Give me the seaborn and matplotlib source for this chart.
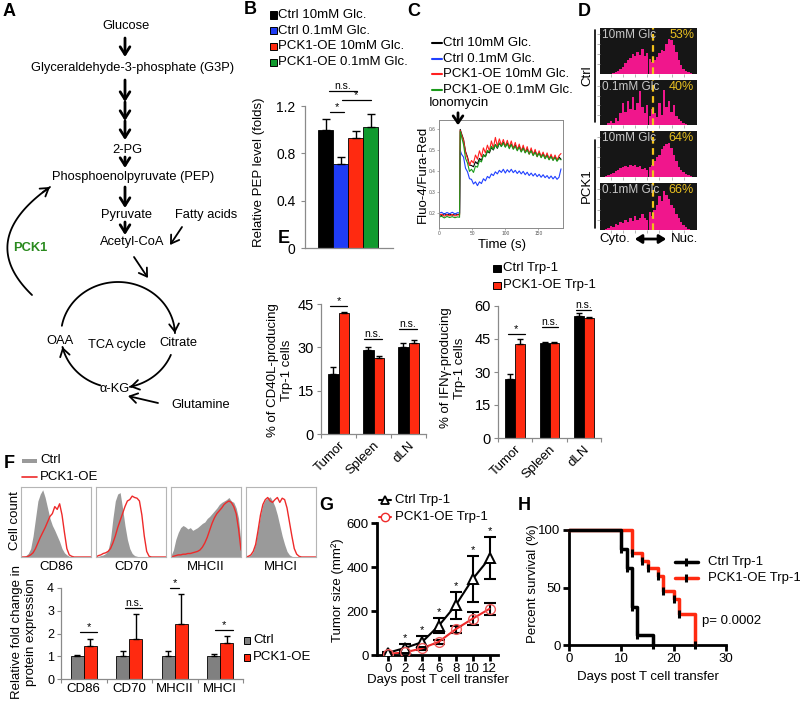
"""Multi-panel figure: PCK1 / PEP metabolism in T cells."""

import matplotlib.pyplot as plt
import numpy as np
import seaborn as sns
from matplotlib.lines import Line2D
from matplotlib.patches import FancyArrowPatch, Rectangle

# ---------------- data ----------------
# B: relative PEP level
pep_groups = ["Ctrl 10mM Glc.", "Ctrl 0.1mM Glc.", "PCK1-OE 10mM Glc.", "PCK1-OE 0.1mM Glc."]
pep_mean = [1.00, 0.71, 0.93, 1.02]
pep_err = [0.09, 0.06, 0.06, 0.11]
pep_colors = ["#000000", "#1f3cf5", "#ff2a10", "#119a2e"]

# C: calcium flux traces (Fluo-4/Fura-Red)
c_time = [0, 4, 8, 12, 16, 20, 24, 28, 31, 32,
          34, 37, 40, 43, 46, 49, 52, 55, 58, 61,
          64, 67, 70, 73, 76, 79, 82, 85, 88, 91,
          94, 97, 100, 103, 106, 109, 112, 115, 118, 121,
          124, 127, 130, 133, 136, 139, 142, 145, 148, 151,
          154, 157, 160, 163, 166, 169, 172, 175, 178, 181,
          184]
c_ctrl_10 = [0.195, 0.190, 0.199, 0.192, 0.197, 0.191, 0.198, 0.194, 0.196, 0.600,
             0.580, 0.552, 0.495, 0.468, 0.430, 0.428, 0.422, 0.446, 0.436, 0.462,
             0.452, 0.480, 0.470, 0.496, 0.488, 0.514, 0.502, 0.528, 0.510, 0.535,
             0.520, 0.540, 0.518, 0.536, 0.515, 0.530, 0.512, 0.526, 0.505, 0.520,
             0.498, 0.515, 0.492, 0.508, 0.486, 0.502, 0.480, 0.496, 0.476, 0.490,
             0.470, 0.486, 0.465, 0.480, 0.460, 0.475, 0.455, 0.472, 0.452, 0.468,
             0.458]
c_ctrl_01 = [0.200, 0.205, 0.196, 0.204, 0.198, 0.205, 0.197, 0.203, 0.202, 0.500,
             0.482, 0.468, 0.415, 0.398, 0.365, 0.362, 0.340, 0.350, 0.332, 0.350,
             0.342, 0.365, 0.355, 0.376, 0.368, 0.388, 0.380, 0.398, 0.388, 0.405,
             0.395, 0.410, 0.392, 0.408, 0.396, 0.410, 0.394, 0.405, 0.390, 0.402,
             0.388, 0.400, 0.384, 0.396, 0.380, 0.392, 0.378, 0.390, 0.375, 0.386,
             0.372, 0.384, 0.370, 0.380, 0.366, 0.378, 0.364, 0.376, 0.362, 0.372,
             0.412]
c_oe_10 = [0.190, 0.196, 0.186, 0.194, 0.188, 0.195, 0.187, 0.193, 0.191, 0.595,
           0.575, 0.548, 0.490, 0.462, 0.428, 0.452, 0.440, 0.478, 0.458, 0.498,
           0.470, 0.512, 0.488, 0.525, 0.498, 0.545, 0.512, 0.562, 0.520, 0.555,
           0.525, 0.552, 0.520, 0.548, 0.515, 0.545, 0.508, 0.538, 0.502, 0.530,
           0.495, 0.525, 0.490, 0.518, 0.482, 0.512, 0.478, 0.505, 0.470, 0.498,
           0.468, 0.492, 0.462, 0.488, 0.458, 0.482, 0.455, 0.478, 0.452, 0.475,
           0.485]
c_oe_01 = [0.182, 0.186, 0.178, 0.185, 0.180, 0.184, 0.179, 0.183, 0.181, 0.590,
           0.565, 0.528, 0.462, 0.440, 0.400, 0.410, 0.395, 0.425, 0.420, 0.452,
           0.445, 0.478, 0.470, 0.500, 0.492, 0.520, 0.505, 0.528, 0.512, 0.535,
           0.518, 0.536, 0.515, 0.532, 0.508, 0.528, 0.505, 0.520, 0.498, 0.515,
           0.492, 0.510, 0.488, 0.502, 0.482, 0.498, 0.475, 0.490, 0.470, 0.486,
           0.465, 0.480, 0.460, 0.475, 0.455, 0.470, 0.452, 0.466, 0.448, 0.462,
           0.455]
c_labels = ["Ctrl 10mM Glc.", "Ctrl 0.1mM Glc.", "PCK1-OE 10mM Glc.", "PCK1-OE 0.1mM Glc."]
c_colors = ["#000000", "#2040ff", "#ff2020", "#1a9a1a"]

# D: NFAT localisation histograms (Cyto. -> Nuc.)
d_titles = ["10mM Glc", "0.1mM Glc", "10mM Glc", "0.1mM Glc"]
d_pcts = ["53%", "40%", "64%", "66%"]
d_ctrl_10 = [0, 0, 0, 0, 0.01, 0.02, 0.05, 0.08, 0.12, 0.18,
             0.28, 0.35, 0.40, 0.50, 0.44, 0.56, 0.47, 0.62, 0.45, 0.52,
             0.38, 0.30, 0.34, 0.42, 0.52, 0.60, 0.58, 0.76, 0.88, 0.84,
             0.72, 0.55, 0.36, 0.22, 0.13, 0.08, 0.04, 0.02, 0.01, 0]
d_ctrl_01 = [0, 0, 0, 0.04, 0.09, 0.06, 0.18, 0.10, 0.30, 0.55,
             0.32, 0.62, 0.42, 0.72, 0.38, 0.55, 0.88, 0.45, 0.30, 0.52,
             0.24, 0.42, 0.30, 0.20, 0.56, 0.26, 0.90, 0.46, 0.62, 0.34,
             0.50, 0.24, 0.15, 0.10, 0.06, 0.03, 0.01, 0, 0, 0]
d_pck_10 = [0, 0, 0.02, 0.05, 0.08, 0.10, 0.14, 0.18, 0.22, 0.25,
            0.28, 0.25, 0.30, 0.27, 0.31, 0.25, 0.28, 0.21, 0.23, 0.18,
            0.24, 0.30, 0.40, 0.50, 0.56, 0.70, 0.78, 0.83, 0.86, 0.72,
            0.56, 0.40, 0.26, 0.18, 0.12, 0.08, 0.04, 0.02, 0, 0]
d_pck_01 = [0, 0, 0.02, 0.05, 0.10, 0.08, 0.15, 0.12, 0.20, 0.17,
            0.25, 0.20, 0.30, 0.22, 0.35, 0.25, 0.30, 0.40, 0.30, 0.25,
            0.45, 0.35, 0.50, 0.62, 0.82, 0.70, 0.96, 0.86, 0.75, 0.60,
            0.55, 0.40, 0.30, 0.20, 0.12, 0.08, 0.03, 0.01, 0, 0]
d_split_bin = 21.2

# E: cytokine-producing Trp-1 cells
e_tissues = ["Tumor", "Spleen", "dLN"]
e_cd40l_ctrl = [20.8, 29.1, 30.0]
e_cd40l_ctrl_err = [2.5, 1.1, 1.5]
e_cd40l_oe = [42.0, 26.2, 31.6]
e_cd40l_oe_err = [0.3, 0.9, 0.9]
e_ifng_ctrl = [27.0, 43.0, 55.5]
e_ifng_ctrl_err = [2.0, 0.5, 1.5]
e_ifng_oe = [42.5, 43.2, 54.5]
e_ifng_oe_err = [2.5, 0.3, 0.7]

# F: DC activation markers
f_markers = ["CD86", "CD70", "MHCII", "MHCI"]
f_hist_ctrl = [
    [0, 0.01, 0.02, 0.05, 0.12, 0.30, 0.55, 0.80, 0.90, 0.96,
     0.85, 0.70, 0.55, 0.45, 0.38, 0.30, 0.22, 0.12, 0.06, 0.03,
     0.01, 0, 0, 0, 0, 0, 0, 0, 0, 0],
    [0, 0.01, 0.02, 0.03, 0.05, 0.10, 0.25, 0.55, 0.80, 0.90,
     0.92, 0.70, 0.45, 0.25, 0.12, 0.05, 0.02, 0.01, 0, 0,
     0, 0, 0, 0, 0, 0, 0, 0, 0, 0],
    [0.02, 0.10, 0.25, 0.35, 0.42, 0.45, 0.43, 0.40, 0.42, 0.38,
     0.40, 0.42, 0.45, 0.48, 0.50, 0.55, 0.58, 0.62, 0.66, 0.70,
     0.75, 0.78, 0.80, 0.82, 0.85, 0.80, 0.78, 0.70, 0.55, 0.20],
    [0, 0.01, 0.03, 0.08, 0.20, 0.40, 0.60, 0.75, 0.82, 0.84,
     0.86, 0.80, 0.72, 0.60, 0.45, 0.30, 0.18, 0.08, 0.03, 0.01,
     0, 0, 0, 0, 0, 0, 0, 0, 0, 0],
]
f_hist_oe = [
    [0, 0, 0, 0.01, 0.03, 0.06, 0.12, 0.20, 0.28, 0.35,
     0.42, 0.50, 0.58, 0.62, 0.72, 0.68, 0.76, 0.60, 0.35, 0.12,
     0.03, 0.01, 0, 0, 0, 0, 0, 0, 0, 0],
    [0, 0.02, 0.03, 0.05, 0.06, 0.08, 0.12, 0.20, 0.30, 0.42,
     0.52, 0.62, 0.72, 0.80, 0.82, 0.87, 0.85, 0.84, 0.80, 0.60,
     0.30, 0.08, 0.01, 0, 0, 0, 0, 0, 0, 0],
    [0, 0.01, 0.02, 0.03, 0.03, 0.04, 0.04, 0.05, 0.05, 0.06,
     0.07, 0.08, 0.10, 0.14, 0.20, 0.28, 0.38, 0.48, 0.56, 0.62,
     0.66, 0.70, 0.75, 0.78, 0.80, 0.78, 0.72, 0.62, 0.40, 0.10],
    [0, 0.01, 0.03, 0.08, 0.18, 0.38, 0.60, 0.75, 0.82, 0.85,
     0.80, 0.78, 0.82, 0.85, 0.78, 0.84, 0.82, 0.70, 0.50, 0.30,
     0.12, 0.04, 0.01, 0, 0, 0, 0, 0, 0, 0],
]
f_fold_ctrl = [1.0, 1.0, 1.0, 1.0]
f_fold_ctrl_err = [0.05, 0.22, 0.22, 0.10]
f_fold_oe = [1.47, 1.77, 2.42, 1.60]
f_fold_oe_err = [0.28, 1.10, 1.30, 0.28]

# G: tumor growth
g_days = [0, 2, 4, 6, 8, 10, 12]
g_ctrl = [10, 32, 58, 133, 226, 345, 440]
g_ctrl_err = [4, 20, 30, 34, 62, 105, 95]
g_oe = [5, 12, 30, 60, 117, 165, 210]
g_oe_err = [3, 5, 8, 10, 15, 29, 28]

# H: survival
h_ctrl_t = [0, 10, 11, 12, 13, 16]
h_ctrl_s = [100, 83.3, 66.7, 33.3, 8.3, 0]
h_oe_t = [0, 12, 14, 15, 17, 18, 20, 21, 24]
h_oe_s = [100, 80.0, 73.3, 66.7, 60.0, 46.7, 40.0, 26.7, 0]

RED = "#ff2a10"
GRAY_AX = "#8a8a8a"

# ---------------- style ----------------
sns.set_style("ticks", {"axes.edgecolor": "black", "text.color": "black",
                        "xtick.color": "black", "ytick.color": "black",
                        "axes.labelcolor": "black"})
plt.rcParams["font.family"] = ["Liberation Sans", "DejaVu Sans"]

W, H = 800, 707
fig = plt.figure(figsize=(8, 7.07), dpi=100)


def add_ax(x0, y0, x1, y1):
    return fig.add_axes([x0 / W, 1 - y1 / H, (x1 - x0) / W, (y1 - y0) / H])


def ftext(x, y, s, **kw):
    kw.setdefault("ha", "center")
    kw.setdefault("va", "center")
    fig.text(x / W, 1 - y / H, s, **kw)


def fline(xs, ys, **kw):
    fig.add_artist(Line2D([x / W for x in xs], [1 - y / H for y in ys], **kw))


def fsquare(x, y, size, color, edge="k"):
    fig.add_artist(Rectangle(((x - size / 2) / W, 1 - (y + size / 2) / H), size / W, size / H,
                             transform=fig.transFigure, facecolor=color, edgecolor=edge, lw=0.7))


def farrow(x0, y0, x1, y1, style, lw=2):
    fig.add_artist(FancyArrowPatch((x0 / W, 1 - y0 / H), (x1 / W, 1 - y1 / H),
                                   transform=fig.transFigure, arrowstyle=style, lw=lw, color="k"))


def excel_axes(ax, labelsize=9.5):
    sns.despine(ax=ax)
    for s in ("left", "bottom"):
        ax.spines[s].set_color(GRAY_AX)
        ax.spines[s].set_linewidth(0.9)
    ax.tick_params(axis="y", color=GRAY_AX, length=3, width=0.8, labelsize=labelsize, pad=2)


def bracket(ax, x0, x1, y, txt, fs=8):
    ax.plot([x0, x1], [y, y], color="k", lw=0.9, clip_on=False)
    ax.text((x0 + x1) / 2, y, txt, ha="center", va="bottom", fontsize=fs, clip_on=False)


for letter, x, y in [("A", 9, 11), ("B", 250, 10), ("C", 414, 11), ("D", 584, 11),
                     ("E", 284, 238), ("F", 9, 463), ("G", 326, 506), ("H", 524, 506)]:
    ftext(x, y, letter, fontsize=13, fontweight="bold")

# ---------------- A: pathway ----------------
axA = add_ax(0, 0, 260, 455)
axA.set_xlim(0, 260)
axA.set_ylim(455, 0)
axA.axis("off")
FS_A = 9.3
for label, x, y in [("Glucose", 126, 26), ("Glyceraldehyde-3-phosphate (G3P)", 133, 68),
                    ("2-PG", 127, 150), ("Phosphoenolpyruvate (PEP)", 133, 177),
                    ("Pyruvate", 126, 215), ("Fatty acids", 206, 215), ("Acetyl-CoA", 132, 242),
                    ("OAA", 60, 341), ("TCA cycle", 117, 345), ("Citrate", 178, 343),
                    ("α-KG", 115, 389), ("Glutamine", 201, 405)]:
    axA.text(x, y, label, ha="center", va="center", fontsize=FS_A)
axA.text(30, 248, "PCK1", ha="center", va="center", fontsize=FS_A, color="#2a8a1e", fontweight="bold")

head = "->,head_length=0.55,head_width=0.35"


def arrow(x0, y0, x1, y1, lw=2.0):
    axA.annotate("", xy=(x1, y1), xytext=(x0, y0),
                 arrowprops=dict(arrowstyle=head, lw=lw, color="k", shrinkA=0, shrinkB=0))


arrow(125, 38, 125, 57)
arrow(125, 80, 125, 102)
arrow(125, 102, 125, 121)
arrow(125, 121, 125, 140)
arrow(125, 157, 125, 168)
arrow(125, 187, 125, 208)
arrow(125, 222, 125, 235)
arrow(182, 227, 170, 245, lw=1.3)
arrow(134, 257, 148, 278, lw=1.3)
arrow(158, 403, 128, 396, lw=1.3)

cx, cy, rx, ry = 118, 335, 57, 53


def arc(th0, th1):
    th = np.radians(np.linspace(th0, th1, 80))
    x = cx + rx * np.cos(th)
    y = cy - ry * np.sin(th)
    axA.plot(x, y, color="k", lw=1.3)
    axA.annotate("", xy=(x[-1], y[-1]), xytext=(x[-4], y[-4]),
                 arrowprops=dict(arrowstyle=head, lw=1.3, color="k", shrinkA=0, shrinkB=0))


arc(170, 2)
arc(-22, -78)
arc(-108, -167)

# PCK1 curved arrow OAA -> PEP
tt = np.linspace(0, 1, 60)
p0, p1, p2 = np.array([32, 295]), np.array([-25, 240]), np.array([50, 187])
curve = ((1 - tt) ** 2)[:, None] * p0 + (2 * (1 - tt) * tt)[:, None] * p1 + (tt ** 2)[:, None] * p2
axA.plot(curve[:, 0], curve[:, 1], color="k", lw=1.3)
axA.annotate("", xy=curve[-1], xytext=curve[-4],
             arrowprops=dict(arrowstyle=head, lw=1.3, color="k", shrinkA=0, shrinkB=0))

# ---------------- B: PEP ----------------
axB = add_ax(305, 106, 393, 248)
pos = np.arange(len(pep_mean))
axB.bar(pos, pep_mean, width=1, color=pep_colors, edgecolor="k", lw=0.6)
axB.errorbar(pos, pep_mean, yerr=[np.zeros(len(pep_err)), pep_err], fmt="none",
             ecolor="k", elinewidth=1, capsize=3, capthick=1)
axB.set_xlim(-1.37, 4.5)
axB.set_ylim(0, 1.2)
axB.set_yticks([0, 0.4, 0.8, 1.2])
axB.set_yticklabels(["0", "0.4", "0.8", "1.2"])
axB.set_xticks([])
excel_axes(axB, labelsize=10)
axB.tick_params(axis="y", pad=4)
bracket(axB, 0.3, 1.2, 1.15, "*")
bracket(axB, 1.1, 3.0, 1.25, "*")
bracket(axB, 0.2, 2.1, 1.33, "n.s.", fs=7.5)
ftext(259, 172, "Relative PEP level (folds)", rotation=90, fontsize=9.5)
for i, (g, c) in enumerate(zip(pep_groups, pep_colors)):
    fsquare(273, 15 + i * 15.7, 7, c)
    ftext(278, 15 + i * 15.7, g, ha="left", fontsize=9.5)

# ---------------- C: calcium flux ----------------
axC = add_ax(439, 120, 563, 228)
for vals, col in zip([c_ctrl_10, c_ctrl_01, c_oe_10, c_oe_01], c_colors):
    sns.lineplot(x=c_time, y=vals, ax=axC, color=col, lw=0.8, estimator=None, sort=False)
axC.set_xlim(0, 187)
axC.set_ylim(0.13, 0.645)
axC.set_xticks([0, 50, 100, 150])
axC.set_yticks([0.2, 0.3, 0.4, 0.5, 0.6])
axC.tick_params(labelsize=3.5, length=1.5, width=0.5, color=GRAY_AX, labelcolor="#555555", pad=1)
for s in axC.spines.values():
    s.set_color(GRAY_AX)
    s.set_linewidth(0.7)
ftext(423, 174, "Fluo-4/Fura-Red", rotation=90, fontsize=9.5)
ftext(502, 245, "Time (s)", fontsize=9.5)
for i, (lab, col) in enumerate(zip(c_labels, c_colors)):
    y = 43 + i * 15.7
    fline([432, 442], [y, y], color=col, lw=1.5)
    ftext(443, y, lab, ha="left", fontsize=9.5)
ftext(459, 103, "Ionomycin", fontsize=9.5)
farrow(458, 110, 458, 128, "->,head_length=5,head_width=3.5")

# ---------------- D: histograms ----------------
d_boxes = [(28, 74), (80, 125), (131, 177), (183, 230)]
for (y0, y1), vals, ttl, pct in zip(d_boxes, [d_ctrl_10, d_ctrl_01, d_pck_10, d_pck_01], d_titles, d_pcts):
    ax = add_ax(600, y0, 697, y1)
    ax.set_facecolor("#161616")
    ax.bar(np.arange(len(vals)), vals, width=1.0, color="#f0168c", lw=0)
    ax.axvline(d_split_bin, color="#f2c21b", lw=1.6, ls=(0, (3, 2)))
    ax.set_xlim(-0.5, len(vals) - 0.5)
    ax.set_ylim(0, 1.15)
    ax.set_xticks([4, 9, 14, 19, 24, 29, 34])
    ax.set_yticks([0.25, 0.5, 0.75, 1.0])
    ax.tick_params(labelleft=False, labelbottom=False, length=2, width=0.5, color="#999999")
    for s in ax.spines.values():
        s.set_visible(False)
    ax.text(0.02, 0.85, ttl, transform=ax.transAxes, color="#c8c8c8", fontsize=8.5, va="center")
    ax.text(0.97, 0.85, pct, transform=ax.transAxes, color="#e8c020", fontsize=9, va="center", ha="right")
ftext(587, 76, "Ctrl", rotation=90, fontsize=9.5)
fline([595, 595], [30, 122], color="k", lw=1.2)
ftext(587, 186, "PCK1", rotation=90, fontsize=9.5)
fline([595, 595], [140, 228], color="k", lw=1.2)
ftext(599, 239, "Cyto.", ha="left", fontsize=9.5)
ftext(671, 239, "Nuc.", ha="left", fontsize=9.5)
farrow(632, 239, 669, 239, "<|-|>,head_length=4,head_width=2.5")

# ---------------- E: cytokine bars ----------------
e_panels = [
    ((321, 304, 426, 434), 45, [0, 15, 30, 45], e_cd40l_ctrl, e_cd40l_ctrl_err, e_cd40l_oe, e_cd40l_oe_err,
     [(-0.24, 0.24, 44.3, "*"), (0.72, 1.24, 32.8, "n.s."), (1.72, 2.24, 36.3, "n.s.")]),
    ((498, 306, 601, 438), 60, [0, 15, 30, 45, 60], e_ifng_ctrl, e_ifng_ctrl_err, e_ifng_oe, e_ifng_oe_err,
     [(-0.21, 0.28, 47.3, "*"), (0.78, 1.24, 50.3, "n.s."), (1.78, 2.22, 58.0, "n.s.")]),
]
bw = 0.29
for box, ymax, yt, m0, e0, m1, e1, ann in e_panels:
    ax = add_ax(*box)
    x = np.arange(len(e_tissues))
    ax.bar(x - bw / 2, m0, width=bw, color="k", edgecolor="k", lw=0.6)
    ax.bar(x + bw / 2, m1, width=bw, color=RED, edgecolor="k", lw=0.6)
    ax.errorbar(x - bw / 2, m0, yerr=[np.zeros(3), e0], fmt="none", ecolor="k", elinewidth=1, capsize=2.5)
    ax.errorbar(x + bw / 2, m1, yerr=[np.zeros(3), e1], fmt="none", ecolor="k", elinewidth=1, capsize=2.5)
    ax.set_xlim(-0.5, 2.5)
    ax.set_ylim(0, ymax)
    ax.set_yticks(yt)
    ax.set_xticks(x)
    ax.set_xticklabels(e_tissues, rotation=45, ha="right", rotation_mode="anchor", fontsize=9.5)
    ax.set_xticks([-0.5, 0.5, 1.5, 2.5], minor=True)
    excel_axes(ax, labelsize=10.5)
    ax.tick_params(axis="x", which="major", length=0, pad=4)
    ax.tick_params(axis="x", which="minor", length=3, color=GRAY_AX, width=0.8)
    for a0, a1, yy, txt in ann:
        bracket(ax, a0, a1, yy, txt, fs=8 if txt == "*" else 7.5)
ftext(280, 370, "% of CD40L-producing\nTrp-1 cells", rotation=90, fontsize=9.5, linespacing=1.25)
ftext(453, 368, "% of IFNγ-producing\nTrp-1 cells", rotation=90, fontsize=9.5, linespacing=1.25)
fsquare(497, 268, 7, "k")
ftext(503, 268, "Ctrl Trp-1", ha="left", fontsize=9.5)
fsquare(497, 285, 7, RED)
ftext(503, 285, "PCK1-OE Trp-1", ha="left", fontsize=9.5)

# ---------------- F: DC histograms ----------------
f_boxes = [21, 96, 171, 246]
for x0, hc, ho, name in zip(f_boxes, f_hist_ctrl, f_hist_oe, f_markers):
    ax = add_ax(x0, 487, x0 + 70, 557)
    xx = np.arange(len(hc))
    ax.fill_between(xx, hc, color="#9a9a9a", lw=0)
    ax.plot(xx, ho, color="#ee2a2a", lw=1.0)
    ax.set_xlim(0, len(hc) - 1)
    ax.set_ylim(0, 1.0)
    ax.set_xticks([])
    ax.set_yticks([])
    for s in ax.spines.values():
        s.set_color("#b5b5b5")
        s.set_linewidth(0.8)
    ftext(x0 + 35, 567, name, fontsize=9.5)
ftext(15, 521, "Cell count", rotation=90, fontsize=9.5)
fig.add_artist(Rectangle((22 / W, 1 - 463 / H), 15 / W, 4 / H, transform=fig.transFigure,
                         facecolor="#9a9a9a", lw=0))
ftext(40, 460, "Ctrl", ha="left", fontsize=9.5)
fline([22, 37], [477, 477], color="#ee2a2a", lw=1.2)
ftext(40, 477, "PCK1-OE", ha="left", fontsize=9.5)

axF = add_ax(61, 588, 243, 679)
x = np.arange(len(f_markers))
axF.bar(x - bw / 2, f_fold_ctrl, width=bw, color="#808080", edgecolor="k", lw=0.6)
axF.bar(x + bw / 2, f_fold_oe, width=bw, color=RED, edgecolor="k", lw=0.6)
axF.errorbar(x - bw / 2, f_fold_ctrl, yerr=[np.zeros(4), f_fold_ctrl_err], fmt="none",
             ecolor="k", elinewidth=1, capsize=2.5)
axF.errorbar(x + bw / 2, f_fold_oe, yerr=[np.zeros(4), f_fold_oe_err], fmt="none",
             ecolor="k", elinewidth=1, capsize=2.5)
axF.set_xlim(-0.5, 3.5)
axF.set_ylim(0, 4)
axF.set_yticks([0, 1, 2, 3, 4])
axF.set_xticks(x)
axF.set_xticklabels(f_markers, fontsize=9.5)
axF.set_xticks([-0.5, 0.5, 1.5, 2.5, 3.5], minor=True)
excel_axes(axF, labelsize=9)
axF.tick_params(axis="x", which="major", length=0, pad=3)
axF.tick_params(axis="x", which="minor", length=3, color=GRAY_AX, width=0.8)
for a0, a1, yy, txt in [(-0.08, 0.29, 2.05, "*"), (0.9, 1.28, 3.1, "n.s."),
                        (1.9, 2.1, 4.0, "*"), (2.88, 3.28, 2.17, "*")]:
    bracket(axF, a0, a1, yy, txt, fs=8 if txt == "*" else 7.5)
ftext(24, 632, "Relative fold change in\nprotein expression", rotation=90, fontsize=9.5, linespacing=1.25)
fsquare(247, 640, 7, "#808080")
ftext(253, 640, "Ctrl", ha="left", fontsize=9.5)
fsquare(247, 657, 7, RED)
ftext(253, 657, "PCK1-OE", ha="left", fontsize=9.5)

# ---------------- G: tumor growth ----------------
axG = add_ax(377, 523, 498, 655)
axG.errorbar(g_days, g_ctrl, yerr=g_ctrl_err, fmt="none", ecolor="k", elinewidth=1.5, capsize=4, capthick=1.5)
axG.errorbar(g_days, g_oe, yerr=g_oe_err, fmt="none", ecolor="k", elinewidth=1.5, capsize=4, capthick=1.5)
sns.lineplot(x=g_days, y=g_ctrl, ax=axG, color="k", lw=1.5, estimator=None)
sns.lineplot(x=g_days, y=g_oe, ax=axG, color="#ee2a2a", lw=1.5, estimator=None)
axG.plot(g_days, g_ctrl, ls="none", marker="^", ms=7, mfc="white", mec="k", mew=1.4, zorder=5)
axG.plot(g_days, g_oe, ls="none", marker="o", ms=7, mfc="none", mec="#ee5a5a", mew=1.0, zorder=5)
for d, m, e in zip(g_days[1:], g_ctrl[1:], g_ctrl_err[1:]):
    axG.text(d, m + e + 4, "*", ha="center", va="bottom", fontsize=8)
axG.set_xlim(-1.3, 13)
axG.set_ylim(0, 600)
axG.set_xticks(g_days)
axG.set_yticks([0, 200, 400, 600])
sns.despine(ax=axG)
for s in ("left", "bottom"):
    axG.spines[s].set_linewidth(2)
axG.tick_params(width=2, length=4, labelsize=9.5, pad=2)
ftext(338, 590, "Tumor size (mm²)", rotation=90, fontsize=9.5)
ftext(438, 680, "Days post T cell transfer", fontsize=9.5)
fig.add_artist(Line2D([379 / W, 385 / W, 391 / W], [1 - 500 / H] * 3, color="k", lw=1.5,
                      marker="^", ms=6, mfc="white", mew=1.3, markevery=[1]))
ftext(395, 500, "Ctrl Trp-1", ha="left", fontsize=9.5)
fig.add_artist(Line2D([379 / W, 385 / W, 391 / W], [1 - 517 / H] * 3, color="#ee2a2a", lw=1.5,
                      marker="o", ms=6, mfc="white", mew=1.0, markevery=[1]))
ftext(395, 517, "PCK1-OE Trp-1", ha="left", fontsize=9.5)

# ---------------- H: survival ----------------
axH = add_ax(569, 530, 726, 645)
axH.step(h_ctrl_t, h_ctrl_s, where="post", color="k", lw=2.5, clip_on=False, zorder=4)
axH.step(h_oe_t, h_oe_s, where="post", color="#ff2a10", lw=2.5, clip_on=False, zorder=3)
axH.plot(h_ctrl_t[1:], h_ctrl_s[1:], ls="none", marker="|", ms=6, mew=2.2, color="k", clip_on=False, zorder=5)
axH.plot(h_oe_t[1:], h_oe_s[1:], ls="none", marker="|", ms=6, mew=2.2, color="k", clip_on=False, zorder=5)
axH.set_xlim(0, 30)
axH.set_ylim(0, 100)
axH.set_xticks([0, 10, 20, 30])
axH.set_yticks([0, 50, 100])
sns.despine(ax=axH)
for s in ("left", "bottom"):
    axH.spines[s].set_linewidth(2)
axH.tick_params(width=2, length=4, labelsize=9.5, pad=2)
ftext(533, 584, "Percent survival (%)", rotation=90, fontsize=9.5)
ftext(648, 677, "Days post T cell transfer", fontsize=9.5)
fig.add_artist(Line2D([675 / W, 686 / W, 698 / W], [1 - 562 / H] * 3, color="k", lw=2.5,
                      marker="|", ms=6, mew=2.2, markevery=[1]))
ftext(708, 562, "Ctrl Trp-1", ha="left", fontsize=9.5)
fig.add_artist(Line2D([675 / W, 686 / W, 698 / W], [1 - 578 / H] * 3, color="#ff2a10", lw=2.5,
                      marker="|", ms=6, mew=2.2, mec="k", markevery=[1]))
ftext(708, 578, "PCK1-OE Trp-1", ha="left", fontsize=9.5)
ftext(702, 621, "p= 0.0002", ha="left", fontsize=9.5)

fig.savefig("out.png", dpi=100)
